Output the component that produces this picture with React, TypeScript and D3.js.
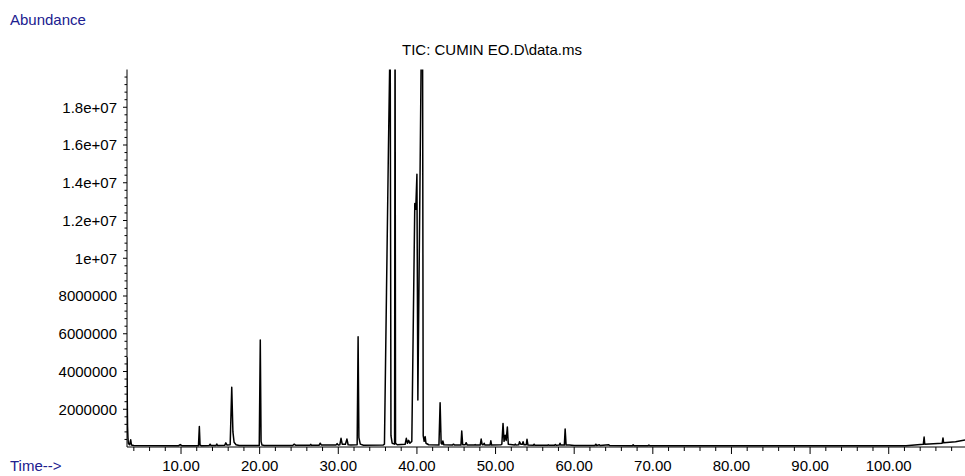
import React from 'react';
import * as d3 from 'd3';

// Chromatogram trace vertices, [retention time (min), abundance]
const earlyTrace: [number, number][] = [
  [3.13, 4.75e6], [3.16, 2.6e6], [3.2, 1.1e6], [3.25, 0.5e6], [3.3, 0.2e6], [3.45, 0.12e6],
  [3.6, 0.38e6], [3.7, 0.1e6], [4.0, 0.08e6], [9.7, 0.07e6], [9.9, 0.13e6], [10.1, 0.07e6],
  [12.22, 0.07e6], [12.33, 1.08e6], [12.42, 0.1e6], [12.6, 0.07e6], [13.6, 0.08e6], [13.7, 0.15e6],
  [13.8, 0.08e6], [14.45, 0.08e6], [14.55, 0.16e6], [14.65, 0.08e6], [15.55, 0.09e6], [15.7, 0.22e6],
  [15.85, 0.1e6], [16.25, 0.12e6], [16.45, 3.16e6], [16.6, 0.8e6], [16.75, 0.25e6], [17.0, 0.12e6],
  [17.4, 0.08e6], [19.95, 0.08e6], [20.08, 5.67e6], [20.18, 0.3e6], [20.3, 0.1e6], [20.6, 0.08e6],
];

const middleTrace: [number, number][] = [
  [24.2, 0.08e6], [24.4, 0.15e6], [24.6, 0.09e6], [26.4, 0.09e6], [26.5, 0.14e6], [26.6, 0.09e6],
  [27.55, 0.09e6], [27.7, 0.2e6], [27.85, 0.1e6], [29.7, 0.1e6], [29.85, 0.18e6], [30.0, 0.1e6],
  [30.2, 0.12e6], [30.35, 0.46e6], [30.5, 0.15e6], [30.9, 0.14e6], [31.1, 0.42e6], [31.25, 0.12e6],
  [31.6, 0.1e6], [32.4, 0.12e6], [32.52, 5.84e6], [32.62, 0.5e6], [32.8, 0.15e6], [33.2, 0.09e6],
  [35.7, 0.1e6], [35.87, 0.15e6], [36.13, 8.2e6], [36.38, 15.9e6], [36.6, 22e6], [36.7, 0.6e6],
  [36.85, 0.2e6], [37.16, 0.15e6], [37.22, 24e6], [37.28, 0.2e6], [37.5, 0.12e6], [38.5, 0.14e6],
  [38.65, 0.46e6], [38.8, 0.2e6], [38.95, 0.35e6], [39.1, 0.2e6], [39.35, 0.3e6], [39.55, 7e6],
  [39.73, 12.9e6], [39.85, 12.6e6], [40.0, 14.45e6], [40.12, 2.49e6], [40.55, 21e6], [40.72, 21e6],
  [40.8, 0.6e6], [40.92, 0.3e6], [41.05, 0.55e6], [41.15, 0.2e6], [41.5, 0.12e6],
];

const lateTrace: [number, number][] = [
  [42.8, 0.1e6], [42.95, 2.35e6], [43.08, 0.2e6], [43.2, 0.15e6], [43.3, 0.32e6], [43.42, 0.12e6],
  [44.5, 0.1e6], [44.65, 0.15e6], [44.8, 0.1e6], [45.6, 0.1e6], [45.7, 0.85e6], [45.82, 0.12e6],
  [46.15, 0.12e6], [46.26, 0.23e6], [46.4, 0.1e6], [47.3, 0.1e6], [47.4, 0.13e6], [47.5, 0.1e6],
  [48.05, 0.1e6], [48.17, 0.42e6], [48.3, 0.12e6], [48.45, 0.12e6], [48.55, 0.2e6], [48.65, 0.1e6],
  [49.3, 0.1e6], [49.4, 0.33e6], [49.5, 0.1e6], [50.7, 0.12e6], [50.8, 0.15e6], [50.95, 1.25e6],
  [51.08, 0.3e6], [51.22, 0.62e6], [51.35, 0.35e6], [51.5, 1.06e6], [51.62, 0.15e6], [52.4, 0.1e6],
  [52.5, 0.15e6], [52.6, 0.1e6], [52.95, 0.12e6], [53.05, 0.28e6], [53.2, 0.15e6], [53.4, 0.15e6],
  [53.5, 0.28e6], [53.62, 0.12e6], [53.9, 0.12e6], [54.0, 0.41e6], [54.12, 0.1e6], [54.8, 0.09e6],
  [54.9, 0.15e6], [55.0, 0.09e6], [56.6, 0.09e6], [56.7, 0.12e6], [56.8, 0.09e6], [57.5, 0.09e6],
  [57.6, 0.13e6], [57.7, 0.09e6], [58.1, 0.1e6], [58.2, 0.2e6], [58.3, 0.1e6], [58.75, 0.1e6],
  [58.85, 0.95e6], [58.97, 0.1e6], [59.4, 0.11e6], [60.0, 0.08e6], [62.65, 0.08e6], [62.75, 0.15e6],
  [62.85, 0.08e6], [63.2, 0.12e6], [63.3, 0.08e6], [64.4, 0.12e6], [64.5, 0.08e6], [67.4, 0.07e6],
  [67.5, 0.12e6], [67.6, 0.07e6], [69.4, 0.07e6], [69.5, 0.1e6], [69.6, 0.07e6], [102.2, 0.07e6],
  [104.4, 0.14e6], [104.5, 0.53e6], [104.58, 0.15e6], [106.8, 0.2e6], [106.9, 0.48e6],
  [106.98, 0.22e6], [108.5, 0.28e6], [109.7, 0.37e6],
];

const xTickValues = [10, 20, 30, 40, 50, 60, 70, 80, 90, 100];
const xTickLabels = ['10.00', '20.00', '30.00', '40.00', '50.00', '60.00', '70.00', '80.00', '90.00', '100.00'];
const yTickValues = [2e6, 4e6, 6e6, 8e6, 1e7, 1.2e7, 1.4e7, 1.6e7, 1.8e7];
const yTickLabels = ['2000000', '4000000', '6000000', '8000000', '1e+07', '1.2e+07', '1.4e+07', '1.6e+07', '1.8e+07'];

const title = 'TIC: CUMIN EO.D\\data.ms';
const timeDomain = [3.13, 109.7];
const abundanceDomain = [0, 2e7];

const W = 965;
const H = 476;
const margin = { top: 69.5, right: 0, bottom: 29, left: 127 };
const labelColor = '#20208f';
const font = '"Liberation Sans", Arial, sans-serif';

const App = () => {
  const x = d3.scaleLinear().domain(timeDomain).range([margin.left, W - margin.right]);
  const y = d3.scaleLinear().domain(abundanceDomain).range([H - margin.bottom, margin.top]);

  const trace = [...earlyTrace, ...middleTrace, ...lateTrace];
  const line = d3
    .line<[number, number]>()
    .x(d => x(d[0]))
    .y(d => y(d[1]));

  const x0 = margin.left;
  const yBase = y(0);
  const xMinor = d3.range(4, 110, 2).filter(t => t % 10 !== 0);
  const yMinor = d3.range(4e5, 2e7, 4e5).filter(v => Math.round(v / 4e5) % 5 !== 0);

  return (
    <svg
      width={W}
      height={H}
      style={{ position: 'absolute', left: 0, top: 0, display: 'block', background: '#fff' }}
      fontFamily={font}
    >
      <defs>
        <clipPath id="plot-clip">
          <rect x={x0} y={margin.top} width={W - x0} height={yBase - margin.top + 2} />
        </clipPath>
      </defs>

      <text x={10} y={25} fontSize={15} fill={labelColor}>Abundance</text>
      <text x={492} y={55} fontSize={15} fill="#000" textAnchor="middle">{title}</text>
      <text x={10} y={471} fontSize={15} fill={labelColor}>Time--&gt;</text>

      {/* y axis */}
      <line x1={x0} x2={x0} y1={margin.top} y2={yBase} stroke="#000" strokeWidth={1} />
      {yMinor.map(v => (
        <line key={'ym' + v} x1={x0 - 2.5} x2={x0} y1={y(v)} y2={y(v)} stroke="#000" />
      ))}
      {yTickValues.map((v, i) => (
        <g key={'y' + v}>
          <line x1={x0 - 4} x2={x0} y1={y(v)} y2={y(v)} stroke="#000" />
          <text x={117} y={y(v)} dy="0.35em" fontSize={15} textAnchor="end" fill="#000">
            {yTickLabels[i]}
          </text>
        </g>
      ))}

      {/* x axis */}
      <line x1={x0} x2={W} y1={yBase} y2={yBase} stroke="#000" strokeWidth={1} />
      {xMinor.map(t => (
        <line key={'xm' + t} x1={x(t)} x2={x(t)} y1={yBase} y2={yBase + 4} stroke="#000" />
      ))}
      {xTickValues.map((t, i) => (
        <g key={'x' + t}>
          <line x1={x(t)} x2={x(t)} y1={yBase} y2={yBase + 7} stroke="#000" />
          <text x={x(t)} y={471} fontSize={15} textAnchor="middle" fill="#000">
            {xTickLabels[i]}
          </text>
        </g>
      ))}

      {/* TIC trace */}
      <path
        d={line(trace) || ''}
        fill="none"
        stroke="#000"
        strokeWidth={1.5}
        strokeLinejoin="round"
        clipPath="url(#plot-clip)"
      />
    </svg>
  );
};

export default App;
